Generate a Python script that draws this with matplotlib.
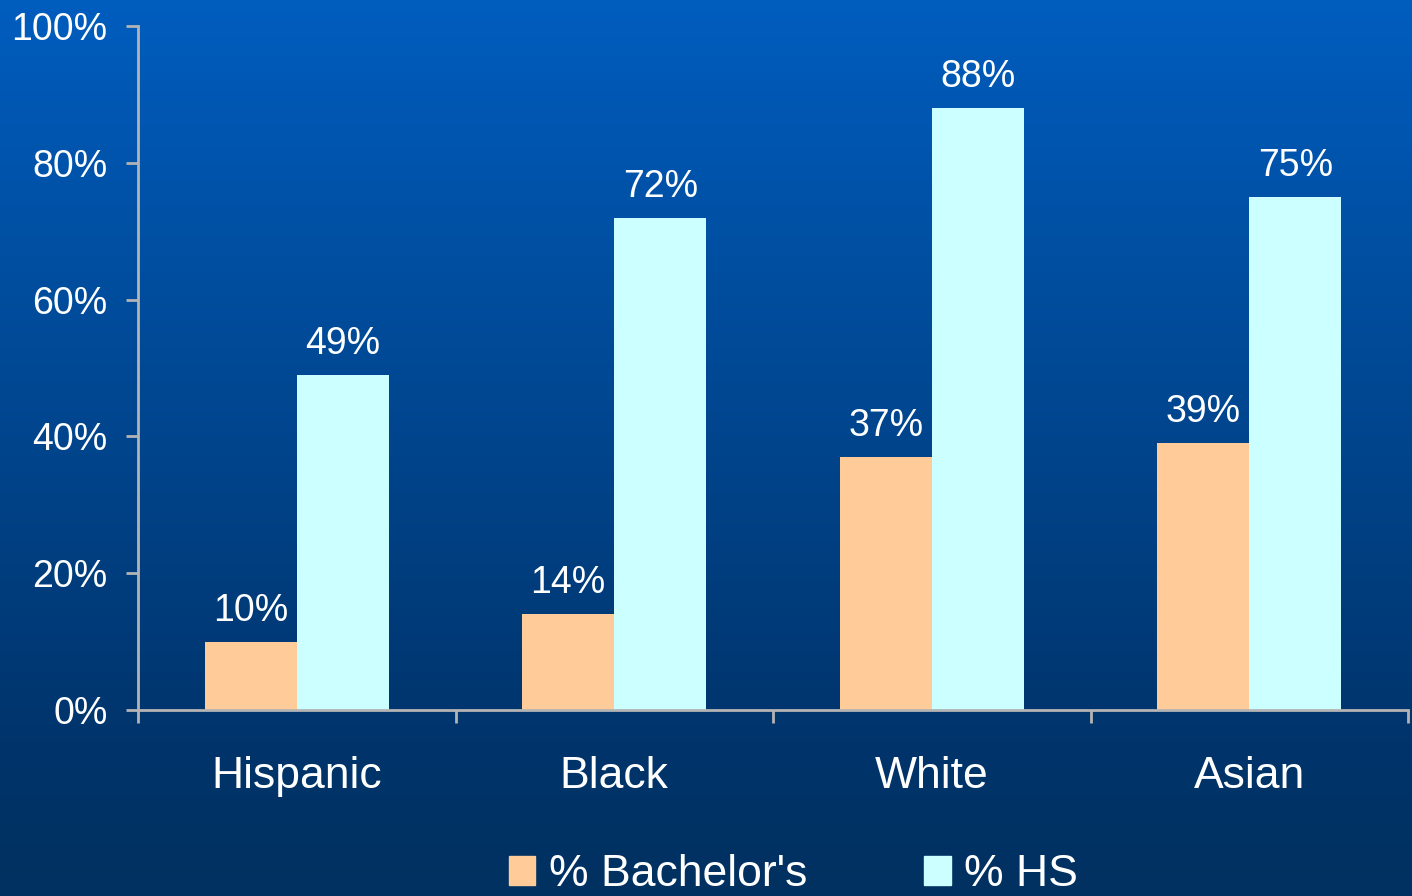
import numpy as np
import matplotlib.pyplot as plt
from matplotlib.colors import LinearSegmentedColormap
from matplotlib.patches import Patch

plt.rcParams['font.family'] = ['Liberation Sans', 'DejaVu Sans']

# 数据
groups = ['Hispanic', 'Black', 'White', 'Asian']
bachelors = [10, 14, 37, 39]
high_school = [49, 72, 88, 75]
series_names = ["% Bachelor's", '% HS']
yticks = [0, 20, 40, 60, 80, 100]

bach_color = '#ffcc99'
hs_color = '#ccffff'
axis_color = '#b4b4b4'

fig = plt.figure(figsize=(14.12, 8.96), dpi=100)

# 背景渐变
bg = fig.add_axes([0, 0, 1, 1], zorder=-10)
grad = np.linspace(0, 1, 256).reshape(-1, 1)
cmap = LinearSegmentedColormap.from_list(
    'bg', [(0, '#005dbe'), (0.83, '#00346b'), (1, '#003160')])
bg.imshow(grad, aspect='auto', cmap=cmap, extent=[0, 1, 0, 1])
bg.axis('off')

ax = fig.add_axes([138 / 1412, 1 - 710 / 896, 1270 / 1412, 684 / 896])
ax.patch.set_alpha(0)

x = np.arange(len(groups))
w = 0.29
b1 = ax.bar(x - w / 2, bachelors, w, color=bach_color, label=series_names[0])
b2 = ax.bar(x + w / 2, high_school, w, color=hs_color, label=series_names[1])

# 数值标签
for bars, vals in ((b1, bachelors), (b2, high_school)):
    for rect, v in zip(bars, vals):
        ax.annotate(f'{v}%', (rect.get_x() + rect.get_width() / 2, v),
                    xytext=(0, 15), textcoords='offset points',
                    ha='center', va='baseline', color='white', fontsize=27)

ax.set_xlim(-0.5, 3.5)
ax.set_ylim(0, 100)

ax.set_yticks(yticks)
ax.set_yticklabels([f'{t}%' for t in yticks])
ax.tick_params(axis='y', colors=axis_color, labelcolor='white', labelsize=27,
               length=9, width=2, pad=13)

# 类别分隔刻度 + 居中的类别标签
ax.set_xticks(np.arange(-0.5, 4, 1))
ax.set_xticklabels([])
ax.set_xticks(x, minor=True)
ax.set_xticklabels(groups, minor=True)
ax.tick_params(axis='x', which='major', colors=axis_color, length=9, width=2)
ax.tick_params(axis='x', which='minor', length=0, labelcolor='white',
               labelsize=32, pad=33)

for side in ('top', 'right'):
    ax.spines[side].set_visible(False)
for side in ('left', 'bottom'):
    ax.spines[side].set_color(axis_color)
    ax.spines[side].set_linewidth(2)

handles = [Patch(color=bach_color), Patch(color=hs_color)]
fig.legend(handles, series_names, loc='center', bbox_to_anchor=(0.562, 0.024),
           ncol=2, frameon=False, fontsize=32, labelcolor='white',
           handlelength=0.6, handleheight=0.65, handletextpad=0.3,
           columnspacing=2.64, borderpad=0)

fig.savefig('out.png', dpi=100)
